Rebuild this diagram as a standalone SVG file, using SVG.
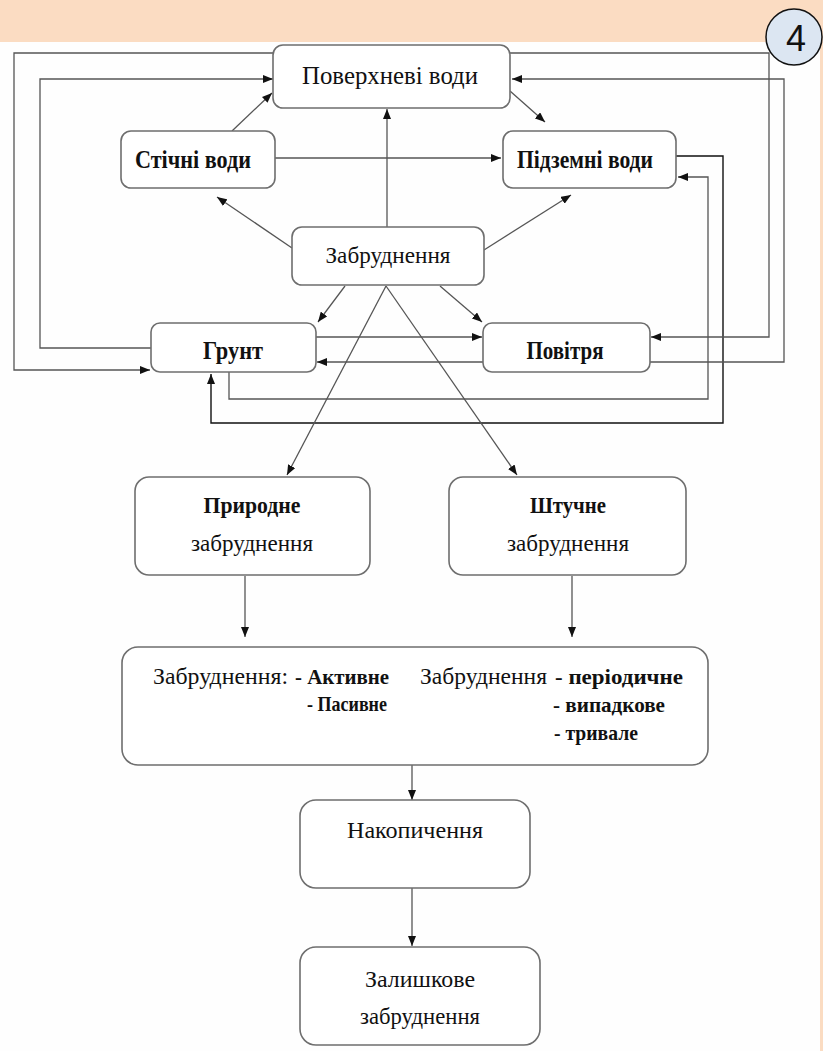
<svg xmlns="http://www.w3.org/2000/svg" width="823" height="1051" viewBox="0 0 823 1051">
<style>
.bg{fill:#fbdcc2}
.panel{fill:#fefefe}
.box{fill:#ffffff;stroke:#6e6e6e;stroke-width:1.6}
.c{fill:none;stroke:#555;stroke-width:1.3}
.cd{fill:none;stroke:#111;stroke-width:1.4}
.t{font-family:"Liberation Serif","DejaVu Serif","Noto Serif",serif;fill:#111;text-anchor:middle}
.s{text-anchor:start}
.b{font-weight:bold}
.n{font-weight:normal}
</style>
<defs>
<marker id="ah" markerUnits="userSpaceOnUse" markerWidth="10" markerHeight="8" refX="10" refY="4" orient="auto">
<path d="M0,0 L10,4 L0,8 z" fill="#111"/>
</marker>
</defs>
<rect class="bg" x="0" y="0" width="823" height="1051"/>
<rect class="panel" x="0" y="42" width="820" height="1009"/>
<g id="badge">
<circle cx="794" cy="37" r="28" fill="#dce6f2" stroke="#111" stroke-width="1.5"/>
<text x="796" y="51" font-family="Liberation Sans,Arial,sans-serif" font-size="36" text-anchor="middle" fill="#111">4</text>
</g>
<g id="connectors">
<path class="c" d="M273,53 H14 V370 H150" marker-end="url(#ah)"/>
<path class="c" d="M151,348 H40 V79 H273" marker-end="url(#ah)"/>
<path class="c" d="M232,131 L272,93" marker-end="url(#ah)"/>
<path class="c" d="M292,248 L217,197" marker-end="url(#ah)"/>
<path class="c" d="M275,158 H501" marker-end="url(#ah)"/>
<path class="c" d="M387,227 V109" marker-end="url(#ah)"/>
<path class="c" d="M510,91 L545,122" marker-end="url(#ah)"/>
<path class="c" d="M484,250 L571,195" marker-end="url(#ah)"/>
<path class="c" d="M345,286 L318,322" marker-end="url(#ah)"/>
<path class="c" d="M440,286 L482,322" marker-end="url(#ah)"/>
<path class="c" d="M316,337 H482" marker-end="url(#ah)"/>
<path class="c" d="M483,362 H317" marker-end="url(#ah)"/>
<path class="c" d="M229,372 V399 H708 V177 H678" marker-end="url(#ah)"/>
<path class="cd" d="M676,156 H723 V423 H211 V374" marker-end="url(#ah)"/>
<path class="c" d="M510,53 H769 V337 H651" marker-end="url(#ah)"/>
<path class="c" d="M650,362 H784 V79 H512" marker-end="url(#ah)"/>
<path class="c" d="M386,286 L287,475" marker-end="url(#ah)"/>
<path class="c" d="M386,286 L517,475" marker-end="url(#ah)"/>
<path class="c" d="M245,576 V637" marker-end="url(#ah)"/>
<path class="c" d="M572,576 V637" marker-end="url(#ah)"/>
<path class="c" d="M412,765 V800" marker-end="url(#ah)"/>
<path class="c" d="M412,888 V946" marker-end="url(#ah)"/>
</g>
<g id="n-poverkhnevi">
<rect class="box" x="273" y="45" width="237" height="63" rx="10"/>
<text class="t n" x="390" y="84" font-size="25" textLength="176" lengthAdjust="spacingAndGlyphs">Поверхневі води</text>
</g>
<g id="n-stichni">
<rect class="box" x="121" y="131" width="154" height="57" rx="10"/>
<text class="t b" x="193" y="168" font-size="25" textLength="116" lengthAdjust="spacingAndGlyphs">Стічні води</text>
</g>
<g id="n-pidzemni">
<rect class="box" x="503" y="131" width="173" height="57" rx="10"/>
<text class="t b" x="585" y="168" font-size="25" textLength="136" lengthAdjust="spacingAndGlyphs">Підземні води</text>
</g>
<g id="n-zabrudnennia">
<rect class="box" x="292" y="227" width="192" height="58" rx="10"/>
<text class="t n" x="388" y="263" font-size="24" textLength="125" lengthAdjust="spacingAndGlyphs">Забруднення</text>
</g>
<g id="n-grunt">
<rect class="box" x="151" y="323" width="165" height="49" rx="9"/>
<text class="t b" x="233" y="359" font-size="25" textLength="60" lengthAdjust="spacingAndGlyphs">Грунт</text>
</g>
<g id="n-povitria">
<rect class="box" x="483" y="323" width="167" height="49" rx="9"/>
<text class="t b" x="565" y="359" font-size="25" textLength="77" lengthAdjust="spacingAndGlyphs">Повітря</text>
</g>
<g id="n-pryrodne">
<rect class="box" x="135" y="477" width="235" height="98" rx="14"/>
<text class="t b" x="252" y="513" font-size="24" textLength="97" lengthAdjust="spacingAndGlyphs">Природне</text>
<text class="t n" x="252" y="551" font-size="24" textLength="122" lengthAdjust="spacingAndGlyphs">забруднення</text>
</g>
<g id="n-shtuchne">
<rect class="box" x="449" y="477" width="237" height="98" rx="14"/>
<text class="t b" x="568" y="513" font-size="24" textLength="76" lengthAdjust="spacingAndGlyphs">Штучне</text>
<text class="t n" x="568" y="551" font-size="24" textLength="122" lengthAdjust="spacingAndGlyphs">забруднення</text>
</g>
<g id="n-types">
<rect class="box" x="122" y="647" width="586" height="118" rx="16"/>
<text class="t n s" x="153" y="684" font-size="23" textLength="135" lengthAdjust="spacingAndGlyphs">Забруднення:</text>
<text class="t b s" x="295" y="684" font-size="21" textLength="94" lengthAdjust="spacingAndGlyphs">- Активне</text>
<text class="t b s" x="307" y="711" font-size="21" textLength="80" lengthAdjust="spacingAndGlyphs">- Пасивне</text>
<text class="t n s" x="420" y="684" font-size="23" textLength="127" lengthAdjust="spacingAndGlyphs">Забруднення</text>
<text class="t b s" x="555" y="684" font-size="21" textLength="128" lengthAdjust="spacingAndGlyphs">- періодичне</text>
<text class="t b s" x="553" y="712" font-size="21" textLength="112" lengthAdjust="spacingAndGlyphs">- випадкове</text>
<text class="t b s" x="554" y="740" font-size="21" textLength="84" lengthAdjust="spacingAndGlyphs">- тривале</text>
</g>
<g id="n-nakopychennia">
<rect class="box" x="300" y="800" width="230" height="88" rx="16"/>
<text class="t n" x="415" y="838" font-size="24" textLength="136" lengthAdjust="spacingAndGlyphs">Накопичення</text>
</g>
<g id="n-zalyshkove">
<rect class="box" x="300" y="947" width="240" height="98" rx="16"/>
<text class="t n" x="420" y="987" font-size="24" textLength="110" lengthAdjust="spacingAndGlyphs">Залишкове</text>
<text class="t n" x="420" y="1024" font-size="24" textLength="120" lengthAdjust="spacingAndGlyphs">забруднення</text>
</g>
</svg>
